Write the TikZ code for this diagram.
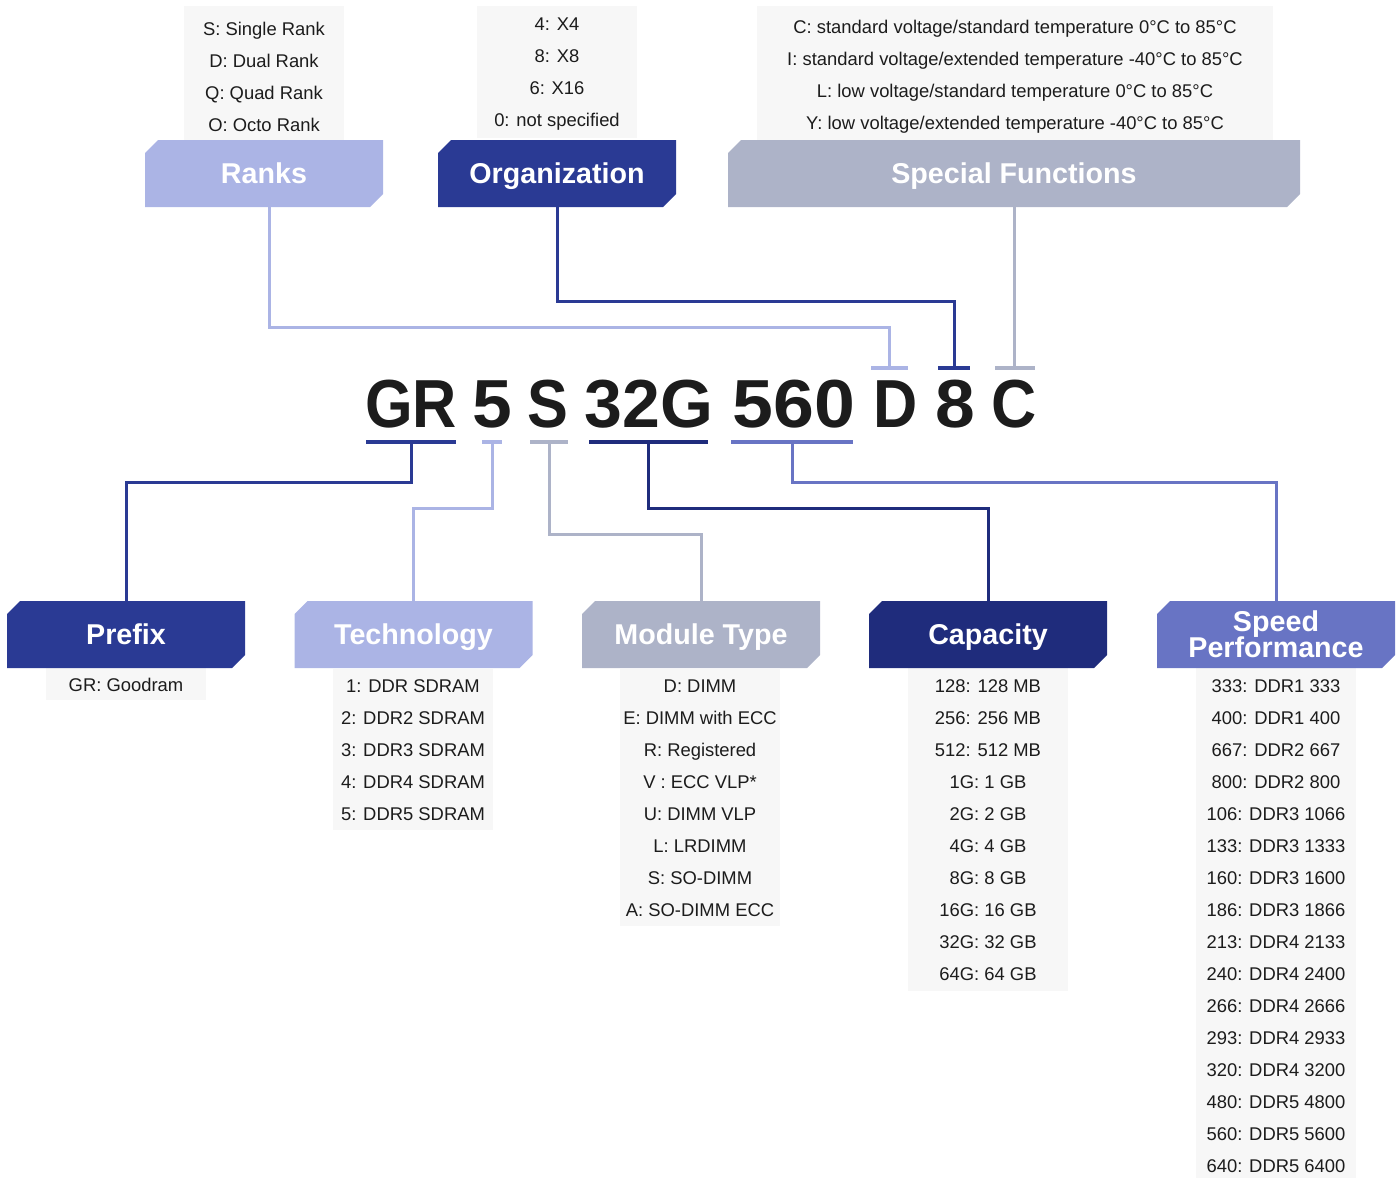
\documentclass[tikz,border=0pt]{standalone}
\usepackage{fontspec}
\setmainfont{Liberation Sans}
\definecolor{cdark}{HTML}{2A3A94}
\definecolor{ccap}{HTML}{1F2C7C}
\definecolor{clight}{HTML}{ABB4E5}
\definecolor{cgray}{HTML}{ADB3C8}
\definecolor{cmid}{HTML}{6874C4}
\definecolor{cpanel}{HTML}{F7F7F7}
\definecolor{cink}{HTML}{1C1C1C}
\newcommand\rs{\rule[-0.15em]{0pt}{1.08em}}
\newcommand\hs{\rule[-0.22em]{0pt}{1.15em}}
\newcommand\hdrfont{\bfseries\fontsize{21.5}{19.5}\selectfont\lineskiplimit=-100pt\relax\lineskip=0pt\relax}
\tikzset{
  hdr/.style={rectangle, inner sep=0pt, minimum width=178.5pt, minimum height=50.25pt,
    text=white, fill=white, font=\hdrfont, align=center,
    path picture={\fill[#1] ([yshift=-9.75pt]path picture bounding box.north west)
      -- ([xshift=9.75pt]path picture bounding box.north west)
      -- (path picture bounding box.north east)
      -- ([yshift=9.75pt]path picture bounding box.south east)
      -- ([xshift=-9.75pt]path picture bounding box.south east)
      -- (path picture bounding box.south west) -- cycle;}},
  panel/.style={rectangle, fill=cpanel, inner sep=0pt, minimum width=120pt, align=center,
    text=cink, font=\fontsize{13.8}{24}\selectfont},
  codetxt/.style={anchor=base, inner sep=0pt, text=cink, font=\bfseries\fontsize{51}{51}\selectfont},
  bar/.style={rectangle, inner sep=0pt, minimum height=3pt, fill=#1},
  conn/.style={draw=#1, line width=2.25pt},
}
\begin{document}
\begin{tikzpicture}[x=0.75pt, y=-0.75pt]
\useasboundingbox (0,0) rectangle (1400,1178);

% ---------- top panels ----------
\node[panel, minimum height=105pt] (pRanks) at (264,76)
  {\rs S: Single Rank\\\rs D: Dual Rank\\\rs Q: Quad Rank\\\rs O: Octo Rank};
\node[panel, minimum height=99pt] (pOrg) at (557,72)
  {\rs 4: X4\\\rs 8: X8\\\rs 6: X16\\\rs 0: not specified};
\node[panel, minimum width=387pt, minimum height=103.5pt] (pSpec) at (1015,75)
  {\rs C: standard voltage/standard temperature 0°C to 85°C\\
   \rs I: standard voltage/extended temperature -40°C to 85°C\\
   \rs L: low voltage/standard temperature 0°C to 85°C\\
   \rs Y: low voltage/extended temperature -40°C to 85°C};

% ---------- top headers ----------
\node[hdr=clight] (ranks) at (264,173.5) {\hs Ranks};
\node[hdr=cdark] (org) at (557,173.5) {\hs Organization};
\node[hdr=cgray, minimum width=429pt] (spec) at (1014,173.5) {\hs Special Functions};

% ---------- code ----------
\node[codetxt, xscale=0.9] (tGR) at (411,427) {GR};
\node[codetxt, xscale=1.05] (t5) at (492,427) {5};
\node[codetxt, xscale=0.9] (tS) at (548,427) {S};
\node[codetxt, xscale=1.0] (t32G) at (649,427) {32G};
\node[codetxt, xscale=1.08] (t560) at (794,427) {560};
\node[codetxt, xscale=0.9] (tD) at (896,427) {D};
\node[codetxt, xscale=1.05] (t8) at (955,427) {8};
\node[codetxt, xscale=0.92] (tC) at (1014,427) {C};

% ---------- bars ----------
\node[bar=clight, minimum width=27.75pt] (bD) at (889.5,368) {};
\node[bar=cdark, minimum width=24pt] (b8) at (954,368) {};
\node[bar=cgray, minimum width=30pt] (bC) at (1015,368) {};
\node[bar=cdark, minimum width=67.5pt] (bGR) at (411,442) {};
\node[bar=clight, minimum width=15pt] (b5) at (492,442) {};
\node[bar=cgray, minimum width=28.5pt] (bS) at (549,442) {};
\node[bar=ccap, minimum width=89.25pt] (b32G) at (648.5,442) {};
\node[bar=cmid, minimum width=91.5pt] (b560) at (792,442) {};

% ---------- bottom panels ----------
\node[panel, minimum height=24pt] (pPre) at (126,684) {\rs GR: Goodram};
\node[panel, minimum height=120.75pt] (pTech) at (413,749)
  {\rs 1: DDR SDRAM\\\rs 2: DDR2 SDRAM\\\rs 3: DDR3 SDRAM\\\rs 4: DDR4 SDRAM\\\rs 5: DDR5 SDRAM};
\node[panel, minimum height=192.75pt] (pMod) at (700,797)
  {\rs D: DIMM\\\rs E: DIMM with ECC\\\rs R: Registered\\\rs V : ECC VLP*\\\rs U: DIMM VLP\\\rs L: LRDIMM\\\rs S: SO-DIMM\\\rs A: SO-DIMM ECC};
\node[panel, minimum height=242.25pt] (pCap) at (988,829)
  {\rs 128: 128 MB\\\rs 256: 256 MB\\\rs 512: 512 MB\\\rs 1G: 1 GB\\\rs 2G: 2 GB\\\rs 4G: 4 GB\\\rs 8G: 8 GB\\\rs 16G: 16 GB\\\rs 32G: 32 GB\\\rs 64G: 64 GB};
\node[panel, minimum height=390pt] (pSpd) at (1276,925)
  {\rs 333: DDR1 333\\\rs 400: DDR1 400\\\rs 667: DDR2 667\\\rs 800: DDR2 800\\\rs 106: DDR3 1066\\\rs 133: DDR3 1333\\\rs 160: DDR3 1600\\\rs 186: DDR3 1866\\\rs 213: DDR4 2133\\\rs 240: DDR4 2400\\\rs 266: DDR4 2666\\\rs 293: DDR4 2933\\\rs 320: DDR4 3200\\\rs 480: DDR5 4800\\\rs 560: DDR5 5600\\\rs 640: DDR5 6400};

% ---------- bottom headers ----------
\node[hdr=cdark] (prefix) at (126,634.5) {\hs Prefix};
\node[hdr=clight] (tech) at (413.5,634.5) {\hs Technology};
\node[hdr=cgray] (module) at (701,634.5) {\hs Module Type};
\node[hdr=ccap] (capacity) at (988,634.5) {\hs Capacity};
\node[hdr=cmid] (speed) at (1276,634.5) {\hs Speed\\\hs Performance};

% ---------- connectors ----------
\draw[conn=clight] ([xshift=3.75pt]ranks.south) -- ++(0,120) -| (bD.north);
\draw[conn=cdark] (org.south) -- ++(0,94) -| (b8.north);
\draw[conn=cgray] (spec.south) -- (spec.south |- bC.north);
\draw[conn=cdark] (bGR.south) -- ++(0,38) -| (prefix.north);
\draw[conn=clight] (b5.south) -- ++(0,64) -| (tech.north);
\draw[conn=cgray] (bS.south) -- ++(0,90) -| (module.north);
\draw[conn=ccap] (b32G.south) -- ++(0,64) -| (capacity.north);
\draw[conn=cmid] (b560.south) -- ++(0,38) -| (speed.north);
\end{tikzpicture}
\end{document}
